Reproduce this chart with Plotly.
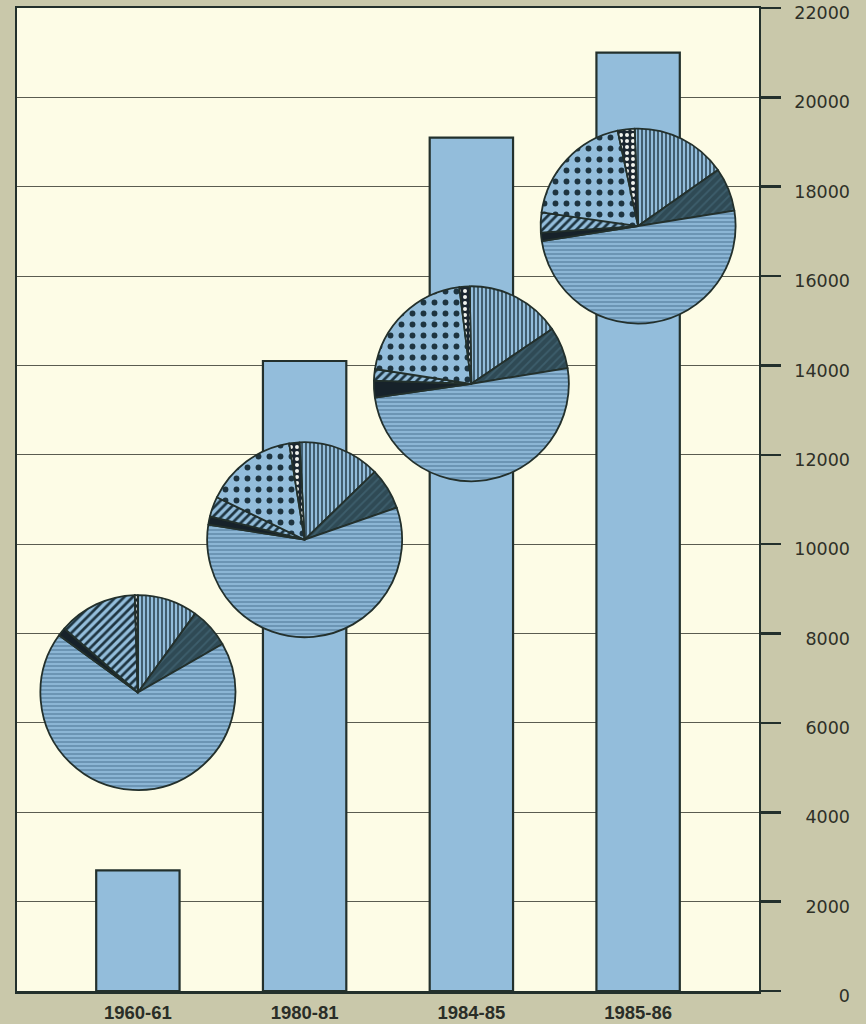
import plotly.graph_objects as go

# ---------------- data ----------------
categories = ["1960-61", "1980-81", "1984-85", "1985-86"]
totals = [2700, 14100, 19100, 21000]
y_ticks = [0, 2000, 4000, 6000, 8000, 10000, 12000, 14000, 16000, 18000, 20000, 22000]

# pie shares (percent), listed clockwise
slice_names = ["stripes", "dark", "main", "black", "hatched", "dots", "dotted strip"]
pie_1960 = [10.0, 6.7, 68.3, 1.4, 13.1, 0.0, 0.5]
pie_1980 = [13.6, 6.9, 57.8, 1.4, 3.3, 15.3, 1.7]
pie_1984 = [15.8, 6.9, 50.3, 2.8, 1.9, 20.6, 1.7]
pie_1985 = [15.8, 7.2, 50.0, 1.4, 3.3, 19.4, 2.8]
pies = [pie_1960, pie_1980, pie_1984, pie_1985]

# ---------------- placement / style ----------------
pie_center_y = [6680, 10100, 13590, 17120]   # where each pie sits, in axis units
pie_start = [0, -3, -1, -2]
PIE_R = 97.5                                  # pie radius in px

W, H = 866, 1024
ML, MR, MT, MB = 17, 16, 8, 33
PW, PH = W - ML - MR, H - MT - MB
XAX_W = 742
x_dom_end = XAX_W / PW
XR = [-0.725, 3.725]
YR = [0, 22000]

OUTER = "#c9c8aa"
CREAM = "#fdfce6"
BLUE = "#93bddb"
DARK = "#23302c"
SLATE = "#2f4a55"

fig = go.Figure()

fig.add_trace(go.Bar(
    x=categories, y=totals, width=0.5,
    marker=dict(color=BLUE, line=dict(color=DARK, width=2.2)),
    hoverinfo="skip", showlegend=False,
))
# helper trace carrying the right-aligned label axis
fig.add_trace(go.Scatter(
    x=categories, y=totals, yaxis="y2", mode="markers",
    marker=dict(opacity=0), hoverinfo="skip", showlegend=False,
))

slice_colors = [BLUE, SLATE, "#8cb6d5", "#17222a", BLUE, BLUE, "#1b2630"]
pat_shape = ["|", "/", "-", "", "/", ".", "."]
pat_fg = ["#1e3440", "#3d5e6c", "#5e87a6", "#17222a", "#1e3440", "#1e3440", "#f2f4ee"]
pat_bg = slice_colors
pat_size = [4, 6, 4, 8, 6, 11, 6]
pat_sol = [0.35, 0.3, 0.35, 0.3, 0.45, 0.22, 0.35]

for i, vals in enumerate(pies):
    xp = (i - XR[0]) / (XR[1] - XR[0]) * XAX_W
    yp = (pie_center_y[i] - YR[0]) / (YR[1] - YR[0]) * PH
    dom_x = [(xp - PIE_R) / PW, (xp + PIE_R) / PW]
    dom_y = [(yp - PIE_R) / PH, (yp + PIE_R) / PH]
    fig.add_trace(go.Pie(
        values=vals, labels=slice_names, sort=False, direction="clockwise",
        rotation=pie_start[i], textinfo="none", hoverinfo="skip", showlegend=False,
        domain=dict(x=dom_x, y=dom_y),
        marker=dict(
            colors=slice_colors,
            line=dict(color=DARK, width=1.8),
            pattern=dict(shape=pat_shape, fgcolor=pat_fg, bgcolor=pat_bg,
                         size=pat_size, solidity=pat_sol, fillmode="replace"),
        ),
    ))

fig.update_layout(
    width=W, height=H,
    margin=dict(l=ML, r=MR, t=MT, b=MB, autoexpand=False),
    paper_bgcolor=OUTER, plot_bgcolor=CREAM,
    xaxis=dict(
        domain=[0, x_dom_end], range=XR, type="category", automargin=False,
        showline=True, mirror=True, linecolor=DARK, linewidth=2.5,
        showgrid=False, ticks="", zeroline=False,
        tickfont=dict(family="Liberation Sans", size=18.5, color="#2a2e28", weight="bold"),
        ticklabelstandoff=3, ticklabeloverflow="allow",
    ),
    yaxis=dict(
        side="right", range=YR, tickvals=y_ticks, automargin=False,
        showline=True, mirror=True, linecolor=DARK, linewidth=2.2,
        showgrid=True, gridcolor="#5a5c50", gridwidth=1,
        ticks="outside", ticklen=20, tickwidth=2.5, tickcolor=DARK,
        showticklabels=False, zeroline=False,
    ),
    yaxis2=dict(
        overlaying="y", side="left", anchor="free", position=1.0, automargin=False,
        range=YR, tickvals=y_ticks, tickformat="d", ticklabeloverflow="allow",
        ticklabelshift=5,
        showline=False, showgrid=False, zeroline=False, ticks="",
        tickfont=dict(family="DejaVu Sans", size=17.5, color="#2e3028"),
    ),
)

fig.write_html(
    "out.html",
    config={"displayModeBar": False, "staticPlot": True},
    post_script="document.body.style.margin='0';document.body.style.background='" + OUTER + "';",
)
